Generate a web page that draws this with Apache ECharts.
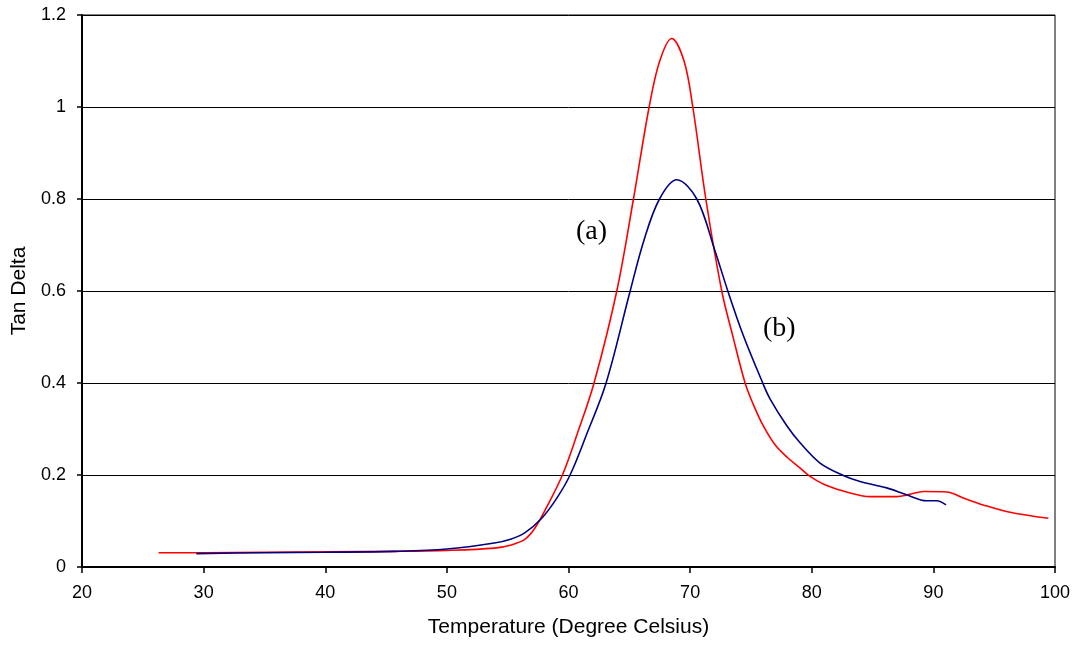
<!DOCTYPE html>
<html>
<head>
<meta charset="utf-8">
<script src="https://cdn.jsdelivr.net/npm/echarts@6/dist/echarts.min.js"></script>
<style>
  html, body { margin: 0; padding: 0; background: #fff; }
  #chart { width: 1078px; height: 646px; }
</style>
</head>
<body>
<div id="chart"></div>
<script>
// curve (a) - red
var tempA = [26.3, 30, 35, 40, 45.7, 50, 53.9, 55.3, 56.4, 57.2, 58.2, 59.5, 60.7, 62.1, 63.97, 65.34, 66.63, 67.5, 68.49, 69.5, 70.22, 71.29, 72.6, 73.51, 74.52, 75.2, 76.03, 77.0, 78.0, 79.05, 79.86, 81.23, 83.15, 84.79, 86.99, 88.08, 89.18, 91.1, 92.47, 94.1, 96.3, 99.45];
var tanA  = [0.031, 0.031, 0.032, 0.033, 0.034, 0.036, 0.041, 0.048, 0.060, 0.083, 0.130, 0.2, 0.288, 0.4, 0.6, 0.8, 1.0, 1.10, 1.149, 1.10, 1.0, 0.8, 0.6, 0.502, 0.4, 0.353, 0.306, 0.265, 0.238, 0.215, 0.197, 0.177, 0.161, 0.153, 0.153, 0.158, 0.164, 0.163, 0.150, 0.135, 0.119, 0.106];

// curve (b) - blue
var tempB = [29.4, 35, 40, 45.7, 50, 53.9, 55.3, 56.4, 57.8, 59.0, 60.13, 61.5, 63.09, 65.07, 66.2, 67.48, 68.9, 70.55, 72.0, 73.1, 74.39, 75.97, 76.58, 77.95, 79.04, 80.68, 82.6, 83.97, 86.16, 87.8, 89.45, 90.27, 91.04];
var tanB  = [0.029, 0.031, 0.032, 0.034, 0.039, 0.052, 0.061, 0.074, 0.106, 0.148, 0.2, 0.289, 0.4, 0.6, 0.71, 0.8, 0.842, 0.8, 0.691, 0.6, 0.502, 0.4, 0.365, 0.307, 0.270, 0.226, 0.199, 0.186, 0.172, 0.157, 0.144, 0.144, 0.135];

var xTicks = [20, 30, 40, 50, 60, 70, 80, 90, 100];
var yTicks = [0, 0.2, 0.4, 0.6, 0.8, 1, 1.2];

function pairs(xs, ys) {
  return xs.map(function (x, i) { return [x, ys[i]]; });
}

var myChart = echarts.init(document.getElementById('chart'));

var option = {
  animation: false,
  backgroundColor: '#fff',
  grid: {
    left: 82, right: 23, top: 15, bottom: 79,
    show: true, borderColor: '#000', borderWidth: 1
  },
  xAxis: {
    type: 'value',
    min: xTicks[0], max: xTicks[xTicks.length - 1], interval: 10,
    name: 'Temperature (Degree Celsius)',
    nameLocation: 'middle', nameGap: 50,
    nameTextStyle: { fontFamily: 'Liberation Sans', fontSize: 21, color: '#000' },
    axisLine: { show: true, lineStyle: { color: '#000', width: 2 } },
    axisTick: { show: true, inside: false, length: 6, lineStyle: { color: '#000', width: 1.5 } },
    axisLabel: { fontFamily: 'Liberation Sans', fontSize: 18, color: '#000', margin: 17 },
    splitLine: { show: false }
  },
  yAxis: {
    type: 'value',
    min: yTicks[0], max: yTicks[yTicks.length - 1], interval: 0.2,
    name: 'Tan Delta',
    nameLocation: 'middle', nameGap: 50, nameRotate: 90,
    nameTextStyle: { fontFamily: 'Liberation Sans', fontSize: 21, color: '#000' },
    axisLine: { show: true, lineStyle: { color: '#000', width: 2 } },
    axisTick: { show: true, inside: false, length: 5, lineStyle: { color: '#000', width: 1.5 } },
    axisLabel: { fontFamily: 'Liberation Sans', fontSize: 18, color: '#000', margin: 16 },
    splitLine: { show: true, lineStyle: { color: '#000', width: 1 } }
  },
  series: [
    {
      name: '(a)', type: 'line', smooth: 0.35, showSymbol: false,
      data: pairs(tempA, tanA),
      lineStyle: { color: '#ff0000', width: 1.6 },
      z: 3
    },
    {
      name: '(b)', type: 'line', smooth: 0.35, showSymbol: false,
      data: pairs(tempB, tanB),
      lineStyle: { color: '#000080', width: 1.6 },
      z: 4
    }
  ],
  graphic: [
    { type: 'text', left: 576, top: 218, style: { text: '(a)', font: '28px "Liberation Serif"', fill: '#000' } },
    { type: 'text', left: 763, top: 315, style: { text: '(b)', font: '28px "Liberation Serif"', fill: '#000' } }
  ]
};

myChart.setOption(option);
</script>
</body>
</html>
